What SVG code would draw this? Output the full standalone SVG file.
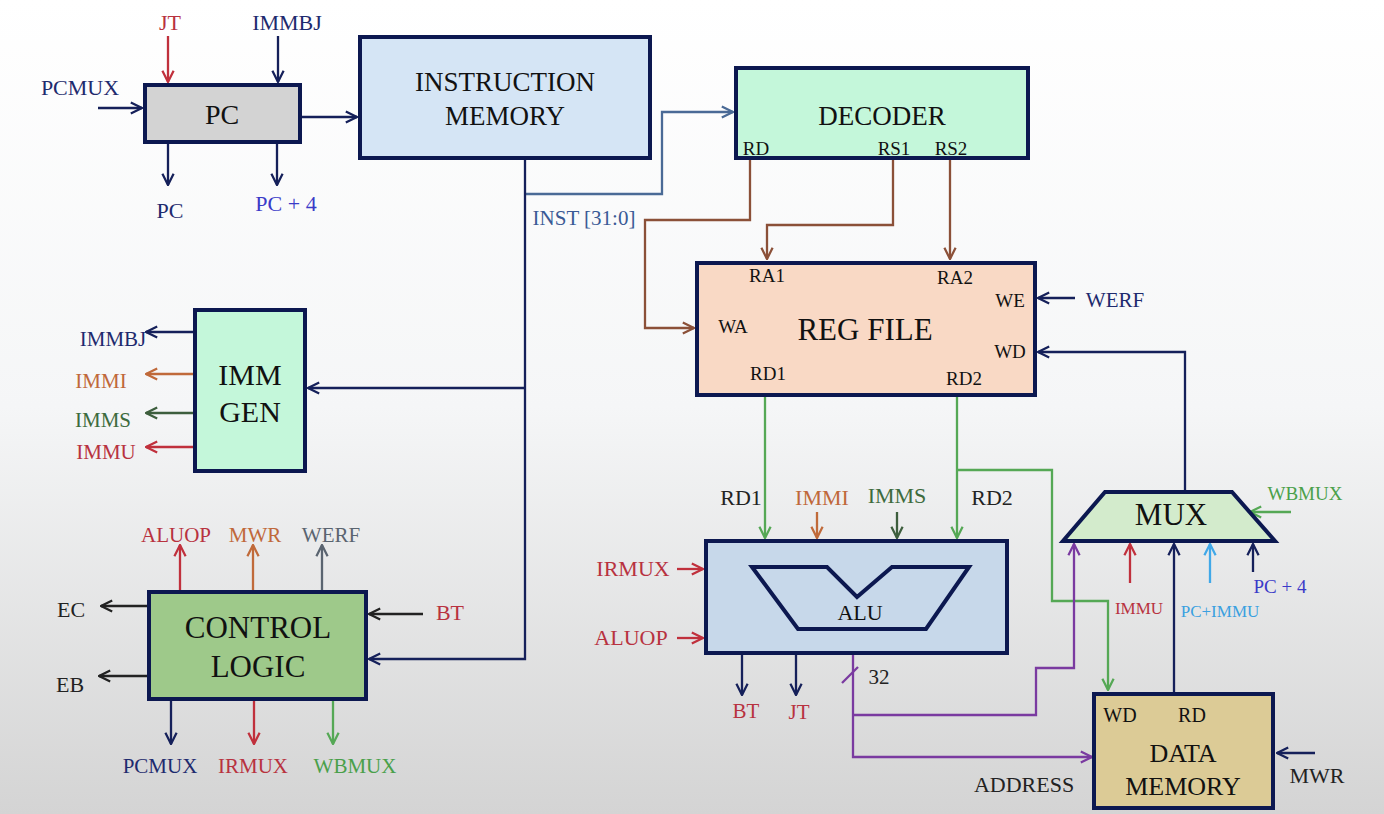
<svg xmlns="http://www.w3.org/2000/svg" width="1384" height="814" viewBox="0 0 1384 814">
<style>
text{font-family:"Liberation Serif","Times New Roman",serif;text-anchor:middle}
.box{stroke:#0c1850;stroke-width:4}
.ttl{fill:#111}
.w{fill:none;stroke-width:2.3}
.navy{stroke:#15205a}.steel{stroke:#4a6a96}.brown{stroke:#8b5038}.green{stroke:#55a855}.purple{stroke:#7a3aa0}
.red{stroke:#c0303c}.orange{stroke:#c06a3a}.dgreen{stroke:#3d5e3d}.gray{stroke:#5a6470}.black{stroke:#222}.lblue{stroke:#40a8e8}
.Lnavy{fill:#1e2a6e}.Lred{fill:#b8323f}.Lorange{fill:#c0683a}.Ldgreen{fill:#3d6b3d}.Lgreen{fill:#4aa04a}.Lgray{fill:#5a6470}
.Lblue{fill:#3a3ac8}.Llblue{fill:#3aa0e0}.Lblack{fill:#222}.Lsteel{fill:#3a5a96}
</style>
<defs>
<linearGradient id="bg" x1="0" y1="0" x2="0" y2="1">
<stop offset="0" stop-color="#ffffff"/><stop offset="0.5" stop-color="#f5f6f7"/><stop offset="1" stop-color="#d4d4d4"/>
</linearGradient>
<marker id="m-navy" viewBox="0 0 10 10" refX="9" refY="5" markerWidth="14" markerHeight="14" markerUnits="userSpaceOnUse" orient="auto"><path d="M1,1 L9,5 L1,9" fill="none" stroke="#15205a" stroke-width="1.6"/></marker>
<marker id="m-steel" viewBox="0 0 10 10" refX="9" refY="5" markerWidth="14" markerHeight="14" markerUnits="userSpaceOnUse" orient="auto"><path d="M1,1 L9,5 L1,9" fill="none" stroke="#4a6a96" stroke-width="1.6"/></marker>
<marker id="m-brown" viewBox="0 0 10 10" refX="9" refY="5" markerWidth="14" markerHeight="14" markerUnits="userSpaceOnUse" orient="auto"><path d="M1,1 L9,5 L1,9" fill="none" stroke="#8b5038" stroke-width="1.6"/></marker>
<marker id="m-green" viewBox="0 0 10 10" refX="9" refY="5" markerWidth="14" markerHeight="14" markerUnits="userSpaceOnUse" orient="auto"><path d="M1,1 L9,5 L1,9" fill="none" stroke="#55a855" stroke-width="1.6"/></marker>
<marker id="m-purple" viewBox="0 0 10 10" refX="9" refY="5" markerWidth="14" markerHeight="14" markerUnits="userSpaceOnUse" orient="auto"><path d="M1,1 L9,5 L1,9" fill="none" stroke="#7a3aa0" stroke-width="1.6"/></marker>
<marker id="m-red" viewBox="0 0 10 10" refX="9" refY="5" markerWidth="14" markerHeight="14" markerUnits="userSpaceOnUse" orient="auto"><path d="M1,1 L9,5 L1,9" fill="none" stroke="#c0303c" stroke-width="1.6"/></marker>
<marker id="m-orange" viewBox="0 0 10 10" refX="9" refY="5" markerWidth="14" markerHeight="14" markerUnits="userSpaceOnUse" orient="auto"><path d="M1,1 L9,5 L1,9" fill="none" stroke="#c06a3a" stroke-width="1.6"/></marker>
<marker id="m-dgreen" viewBox="0 0 10 10" refX="9" refY="5" markerWidth="14" markerHeight="14" markerUnits="userSpaceOnUse" orient="auto"><path d="M1,1 L9,5 L1,9" fill="none" stroke="#3d5e3d" stroke-width="1.6"/></marker>
<marker id="m-gray" viewBox="0 0 10 10" refX="9" refY="5" markerWidth="14" markerHeight="14" markerUnits="userSpaceOnUse" orient="auto"><path d="M1,1 L9,5 L1,9" fill="none" stroke="#5a6470" stroke-width="1.6"/></marker>
<marker id="m-black" viewBox="0 0 10 10" refX="9" refY="5" markerWidth="14" markerHeight="14" markerUnits="userSpaceOnUse" orient="auto"><path d="M1,1 L9,5 L1,9" fill="none" stroke="#222" stroke-width="1.6"/></marker>
<marker id="m-lblue" viewBox="0 0 10 10" refX="9" refY="5" markerWidth="14" markerHeight="14" markerUnits="userSpaceOnUse" orient="auto"><path d="M1,1 L9,5 L1,9" fill="none" stroke="#40a8e8" stroke-width="1.6"/></marker>
</defs>
<rect x="0" y="0" width="1384" height="814" fill="url(#bg)"/>

<g id="connectors">
<!-- PC -->
<path class="w red" d="M168,36 V82" marker-end="url(#m-red)"/>
<path class="w navy" d="M278,36 V82" marker-end="url(#m-navy)"/>
<path class="w navy" d="M98,108 H142" marker-end="url(#m-navy)"/>
<path class="w navy" d="M168,142 V185" marker-end="url(#m-navy)"/>
<path class="w navy" d="M277,142 V185" marker-end="url(#m-navy)"/>
<path class="w navy" d="M300,117 H357" marker-end="url(#m-navy)"/>
<!-- instruction bus -->
<path class="w steel" d="M525,194 H662 V112 H733" marker-end="url(#m-steel)"/>
<path class="w navy" d="M525,158 V659 H369" marker-end="url(#m-navy)"/>
<path class="w navy" d="M525,388 H308" marker-end="url(#m-navy)"/>
<!-- decoder to reg file -->
<path class="w brown" d="M750,158 V220 H645 V328 H694" marker-end="url(#m-brown)"/>
<path class="w brown" d="M893,158 V225 H767 V259" marker-end="url(#m-brown)"/>
<path class="w brown" d="M950,158 V259" marker-end="url(#m-brown)"/>
<path class="w navy" d="M1075,298 H1038" marker-end="url(#m-navy)"/>
<path class="w navy" d="M1185,492 V352 H1038" marker-end="url(#m-navy)"/>
<!-- IMM GEN outputs -->
<path class="w navy" d="M195,332 H146" marker-end="url(#m-navy)"/>
<path class="w orange" d="M195,374 H146" marker-end="url(#m-orange)"/>
<path class="w dgreen" d="M195,413 H146" marker-end="url(#m-dgreen)"/>
<path class="w red" d="M195,447 H146" marker-end="url(#m-red)"/>
<!-- control logic -->
<path class="w red" d="M180,592 V545" marker-end="url(#m-red)"/>
<path class="w orange" d="M253,592 V545" marker-end="url(#m-orange)"/>
<path class="w gray" d="M322,592 V545" marker-end="url(#m-gray)"/>
<path class="w black" d="M149,606 H101" marker-end="url(#m-black)"/>
<path class="w black" d="M149,676 H99" marker-end="url(#m-black)"/>
<path class="w black" d="M423,614 H369" marker-end="url(#m-black)"/>
<path class="w navy" d="M171,699 V744" marker-end="url(#m-navy)"/>
<path class="w red" d="M254,699 V744" marker-end="url(#m-red)"/>
<path class="w green" d="M333,699 V744" marker-end="url(#m-green)"/>
<!-- ALU inputs -->
<path class="w green" d="M765,395 V538" marker-end="url(#m-green)"/>
<path class="w green" d="M957,395 V538" marker-end="url(#m-green)"/>
<path class="w green" d="M957,470 H1052 V601 H1108 V690" marker-end="url(#m-green)"/>
<path class="w orange" d="M817,512 V538" marker-end="url(#m-orange)"/>
<path class="w dgreen" d="M897,512 V538" marker-end="url(#m-dgreen)"/>
<path class="w red" d="M677,569 H703" marker-end="url(#m-red)"/>
<path class="w red" d="M677,638 H703" marker-end="url(#m-red)"/>
<path class="w navy" d="M742,654 V695" marker-end="url(#m-navy)"/>
<path class="w navy" d="M796,654 V695" marker-end="url(#m-navy)"/>
<!-- ALU result -->
<path class="w purple" d="M853,654 V757 H1092" marker-end="url(#m-purple)"/>
<path class="w purple" d="M853,715 H1036 V668 H1074 V544" marker-end="url(#m-purple)"/>
<path class="w purple" d="M842,683 L858,667"/>
<!-- MUX inputs -->
<path class="w red" d="M1130,583 V544" marker-end="url(#m-red)"/>
<path class="w navy" d="M1174,694 V544" marker-end="url(#m-navy)"/>
<path class="w lblue" d="M1210,583 V544" marker-end="url(#m-lblue)"/>
<path class="w navy" d="M1253,572 V544" marker-end="url(#m-navy)"/>
<path class="w green" d="M1291,512 H1250" marker-end="url(#m-green)"/>
<path class="w navy" d="M1315,753 H1277" marker-end="url(#m-navy)"/>
</g>

<g id="signal-labels" font-size="22">
<text class="Lred" x="170" y="30">JT</text>
<text class="Lnavy" x="287" y="30">IMMBJ</text>
<text class="Lnavy" x="80" y="95">PCMUX</text>
<text class="Lnavy" x="170" y="218">PC</text>
<text class="Lblue" x="286" y="211">PC + 4</text>
<text class="Lsteel" x="584" y="225" font-size="21">INST [31:0]</text>
<text class="Lnavy" x="1115" y="307" font-size="21">WERF</text>
<text class="Lnavy" x="113" y="346" font-size="21">IMMBJ</text>
<text class="Lorange" x="101" y="388" font-size="21">IMMI</text>
<text class="Ldgreen" x="103" y="427" font-size="21">IMMS</text>
<text class="Lred" x="106" y="459" font-size="21">IMMU</text>
<text class="Lred" x="176" y="542" font-size="21">ALUOP</text>
<text class="Lorange" x="255" y="542" font-size="21">MWR</text>
<text class="Lgray" x="331" y="542" font-size="21">WERF</text>
<text class="Lblack" x="71" y="617">EC</text>
<text class="Lblack" x="70" y="692">EB</text>
<text class="Lred" x="450" y="620">BT</text>
<text class="Lnavy" x="160" y="773" font-size="21">PCMUX</text>
<text class="Lred" x="253" y="773" font-size="21">IRMUX</text>
<text class="Lgreen" x="355" y="773" font-size="21">WBMUX</text>
<text class="Lblack" x="741" y="505">RD1</text>
<text class="Lorange" x="822" y="505">IMMI</text>
<text class="Ldgreen" x="897" y="503">IMMS</text>
<text class="Lblack" x="992" y="505">RD2</text>
<text class="Lred" x="633" y="576">IRMUX</text>
<text class="Lred" x="631" y="645">ALUOP</text>
<text class="Lred" x="746" y="718" font-size="21">BT</text>
<text class="Lred" x="799" y="719" font-size="21">JT</text>
<text class="Lblack" x="879" y="684" font-size="21">32</text>
<text class="Lgreen" x="1305" y="500" font-size="19">WBMUX</text>
<text class="Lred" x="1139" y="614" font-size="17">IMMU</text>
<text class="Llblue" x="1220" y="617" font-size="17">PC+IMMU</text>
<text class="Lblue" x="1280" y="593" font-size="19">PC + 4</text>
<text class="Lblack" x="1024" y="792">ADDRESS</text>
<text class="Lblack" x="1317" y="783">MWR</text>
</g>

<g id="pc">
<rect class="box" x="145" y="85" width="155" height="57" fill="#d3d3d3"/>
<text class="ttl" x="222" y="124" font-size="28">PC</text>
</g>

<g id="instruction-memory">
<rect class="box" x="360" y="37" width="290" height="121" fill="#d5e5f5"/>
<text class="ttl" x="505" y="91" font-size="27">INSTRUCTION</text>
<text class="ttl" x="505" y="125" font-size="27">MEMORY</text>
</g>

<g id="decoder">
<rect class="box" x="736" y="68" width="292" height="90" fill="#c4f7da"/>
<text class="ttl" x="882" y="125" font-size="27">DECODER</text>
<text class="ttl" x="756" y="155" font-size="19">RD</text>
<text class="ttl" x="894" y="155" font-size="19">RS1</text>
<text class="ttl" x="951" y="155" font-size="19">RS2</text>
</g>

<g id="reg-file">
<rect class="box" x="697" y="263" width="338" height="132" fill="#f9d9c5"/>
<text class="ttl" x="865" y="340" font-size="31">REG FILE</text>
<text class="ttl" x="767" y="282" font-size="19">RA1</text>
<text class="ttl" x="955" y="284" font-size="19">RA2</text>
<text class="ttl" x="1010" y="307" font-size="19">WE</text>
<text class="ttl" x="733" y="333" font-size="19">WA</text>
<text class="ttl" x="1010" y="358" font-size="19">WD</text>
<text class="ttl" x="768" y="380" font-size="19">RD1</text>
<text class="ttl" x="964" y="385" font-size="19">RD2</text>
</g>

<g id="imm-gen">
<rect class="box" x="195" y="310" width="110" height="161" fill="#c4f7da"/>
<text class="ttl" x="250" y="385" font-size="30">IMM</text>
<text class="ttl" x="250" y="422" font-size="30">GEN</text>
</g>

<g id="control-logic">
<rect class="box" x="149" y="592" width="217" height="107" fill="#9ec98a"/>
<text class="ttl" x="258" y="638" font-size="31">CONTROL</text>
<text class="ttl" x="258" y="677" font-size="31">LOGIC</text>
</g>

<g id="alu">
<rect class="box" x="706" y="541" width="301" height="112" fill="#c7d8ea"/>
<polygon points="752,567 827,567 857,597 892,567 969,567 926,629 798,629" fill="none" stroke="#0c1850" stroke-width="4" stroke-linejoin="miter"/>
<text class="ttl" x="860" y="620" font-size="22">ALU</text>
</g>

<g id="mux">
<polygon class="box" points="1105,492 1232,492 1275,541 1063,541" fill="#d3ebcc"/>
<text class="ttl" x="1171" y="525" font-size="31">MUX</text>
</g>

<g id="data-memory">
<rect class="box" x="1094" y="694" width="179" height="114" fill="#dccb96"/>
<text class="ttl" x="1120" y="722" font-size="20">WD</text>
<text class="ttl" x="1192" y="722" font-size="20">RD</text>
<text class="ttl" x="1183" y="762" font-size="26">DATA</text>
<text class="ttl" x="1183" y="795" font-size="26">MEMORY</text>
</g>
</svg>
